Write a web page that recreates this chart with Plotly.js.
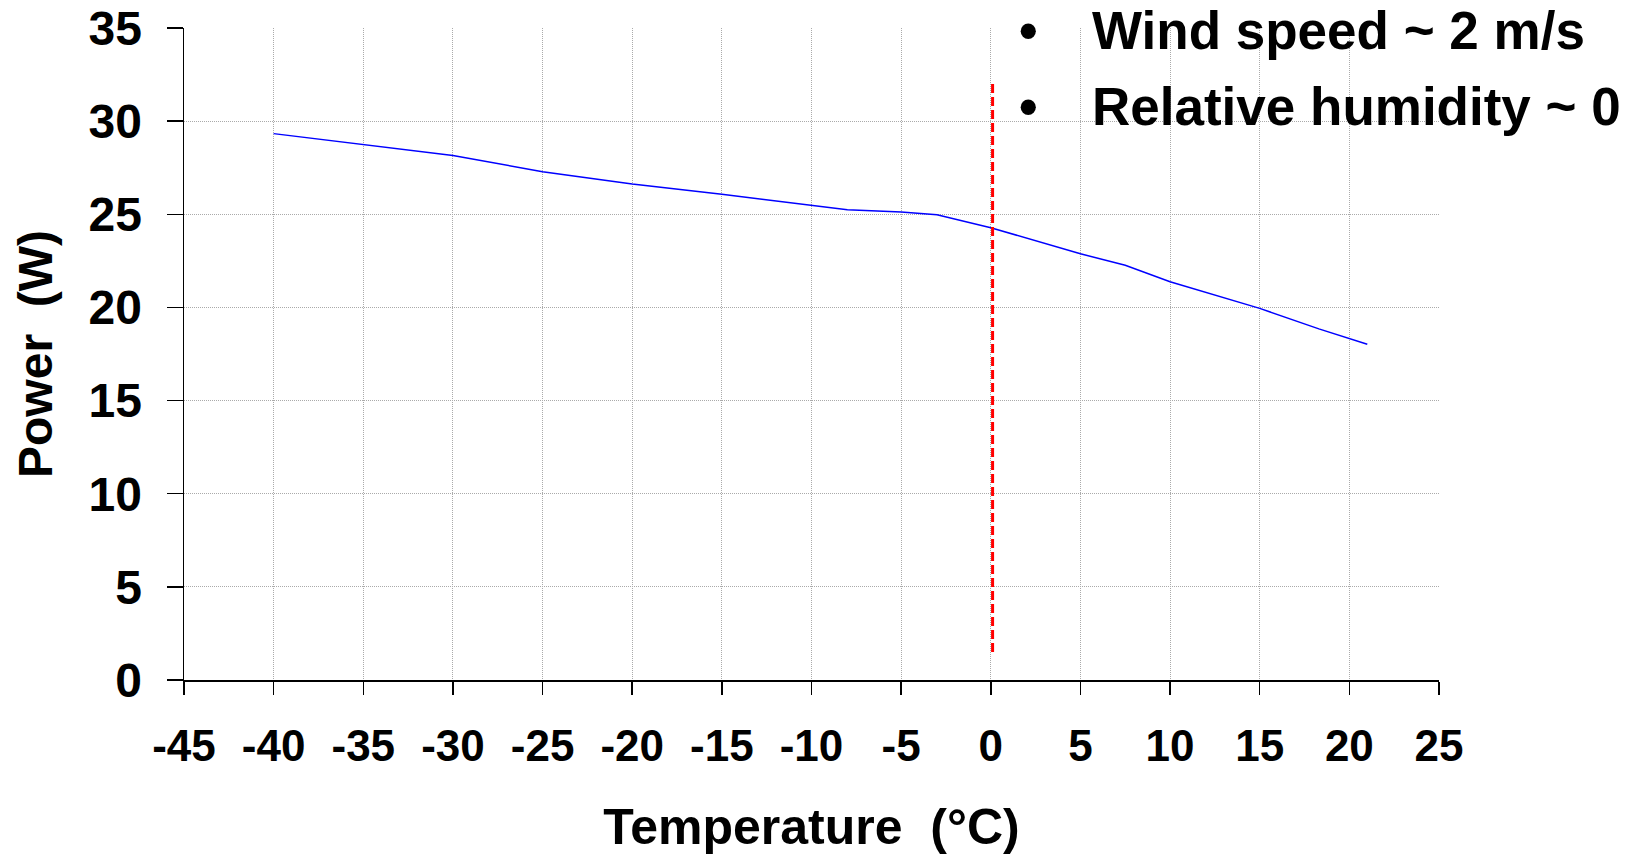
<!DOCTYPE html>
<html>
<head>
<meta charset="utf-8">
<script src="https://cdn.plot.ly/plotly-3.0.1.min.js"></script>
<style>
html, body { margin: 0; padding: 0; background: #ffffff; }
#chart { width: 1639px; height: 855px; }
</style>
</head>
<body>
<div id="chart"></div>
<script>
// Data
var temperature = [-40, -35, -30, -25, -20, -15, -10, -8, -5, -3, 0, 5, 7.5, 10, 15, 18.3, 21];
var power = [29.33, 28.74, 28.16, 27.28, 26.62, 26.08, 25.49, 25.24, 25.12, 24.97, 24.28, 22.88, 22.26, 21.38, 19.95, 18.85, 18.02];

var freezeX = [0.1, 0.1];
var freezeY = [1.5, 32.2];

var xTickVals = [-45, -40, -35, -30, -25, -20, -15, -10, -5, 0, 5, 10, 15, 20, 25];
var xTickText = ['-45', '-40', '-35', '-30', '-25', '-20', '-15', '-10', '-5', '0', '5', '10', '15', '20', '25'];
var yTickVals = [0, 5, 10, 15, 20, 25, 30, 35];
var yTickText = ['0', '5', '10', '15', '20', '25', '30', '35'];

var notes = ['Wind speed ~ 2 m/s', 'Relative humidity ~ 0'];

var FONT = 'Arial, "Liberation Sans", sans-serif';

var W = 1639, H = 855;
var mL = 184, mR = 199.5, mT = 28.2, mB = 174.5;
var plotW = W - mL - mR, plotH = H - mT - mB;
function px2x(px) { return (px - mL) / plotW; }
function py2y(py) { return 1 - (py - mT) / plotH; }

var traces = [
  {
    x: temperature, y: power, type: 'scatter', mode: 'lines',
    line: { color: '#0000ff', width: 1.5 },
    hoverinfo: 'skip', showlegend: false
  },
  {
    x: freezeX, y: freezeY, type: 'scatter', mode: 'lines',
    line: { color: '#ff0000', width: 3, dash: '9px,4px' },
    hoverinfo: 'skip', showlegend: false
  }
];

var noteY = [31, 107];
var annotations = [];
for (var i = 0; i < notes.length; i++) {
  annotations.push({
    xref: 'paper', yref: 'paper', x: px2x(1028.5), y: py2y(noteY[i]),
    xanchor: 'center', yanchor: 'middle', showarrow: false,
    text: '•', font: { family: FONT, size: 53, color: '#000000', weight: 'bold' }
  });
  annotations.push({
    xref: 'paper', yref: 'paper', x: px2x(1090), y: py2y(noteY[i]),
    xanchor: 'left', yanchor: 'middle', showarrow: false,
    text: '<b>' + notes[i] + '</b>', font: { family: FONT, size: 53, color: '#000000' }
  });
}

var layout = {
  width: W, height: H,
  margin: { l: mL, r: mR, t: mT, b: mB, pad: 0 },
  paper_bgcolor: '#ffffff', plot_bgcolor: '#ffffff',
  showlegend: false,
  font: { family: FONT, color: '#000000' },
  xaxis: {
    range: [-45, 25], autorange: false,
    tickmode: 'array', tickvals: xTickVals, ticktext: xTickText,
    ticks: 'outside', ticklen: 13, tickwidth: 1.5, tickcolor: '#000000',
    ticklabelstandoff: 14,
    tickfont: { family: FONT, size: 44, color: '#000000', weight: 'bold' },
    showline: true, linecolor: '#000000', linewidth: 1.5,
    showgrid: true, gridcolor: '#aaaaaa', gridwidth: 1, griddash: '1px,1px',
    zeroline: false, automargin: false,
    title: { text: '<b>Temperature  (°C)</b>', font: { family: FONT, size: 50, color: '#000000' }, standoff: 45 }
  },
  yaxis: {
    range: [0, 35], autorange: false,
    tickmode: 'array', tickvals: yTickVals, ticktext: yTickText,
    ticks: 'outside', ticklen: 16, tickwidth: 1.5, tickcolor: '#000000',
    ticklabelstandoff: 15,
    tickfont: { family: FONT, size: 48, color: '#000000', weight: 'bold' },
    showline: true, linecolor: '#000000', linewidth: 1.5,
    showgrid: true, gridcolor: '#aaaaaa', gridwidth: 1, griddash: '1px,1px',
    zeroline: false, automargin: false,
    title: { text: '<b>Power  (W)</b>', font: { family: FONT, size: 48, color: '#000000' }, standoff: 20 }
  },
  annotations: annotations
};

Plotly.newPlot('chart', traces, layout, { staticPlot: true, displayModeBar: false });
</script>
</body>
</html>
